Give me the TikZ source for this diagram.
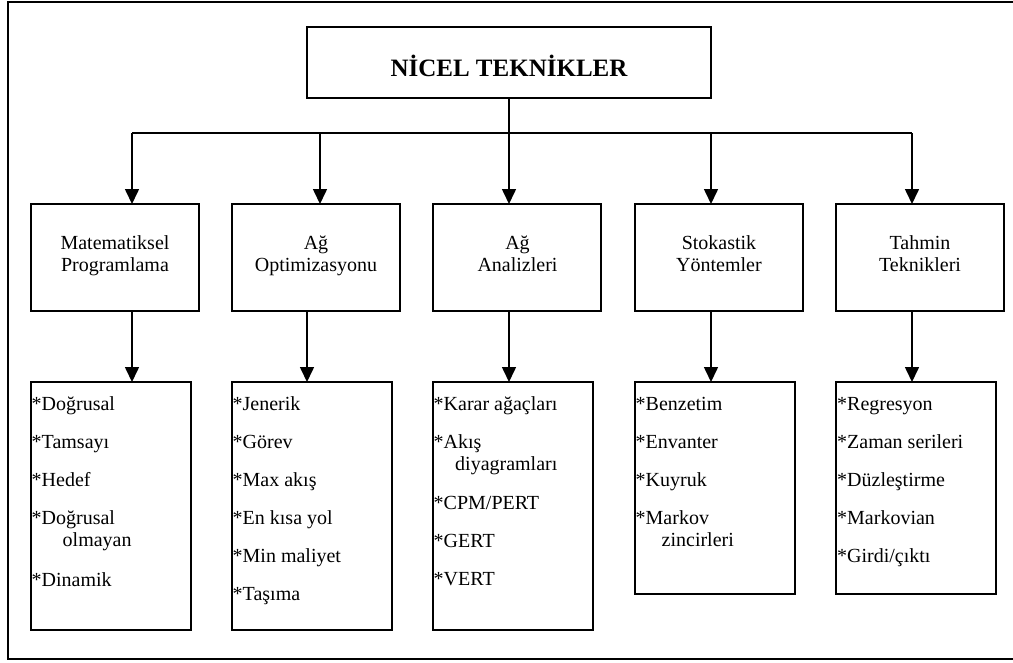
\documentclass[tikz,border=0pt]{standalone}
\usepackage{fontspec}
\setmainfont{Liberation Serif}
\usetikzlibrary{arrows.meta}
\begin{document}
\begin{tikzpicture}[x=1pt,y=-1pt,
  box/.style={draw, line width=1.6pt, rectangle, inner sep=0pt, outer sep=0pt, anchor=north west},
  wire/.style={line width=1.6pt},
  arr/.style={line width=1.6pt, -{Triangle[width=14pt,length=15pt]}},
  head/.style={font=\fontsize{20}{22}\selectfont, anchor=base, inner sep=0pt},
  item/.style={font=\fontsize{20}{22}\selectfont, anchor=base west, inner sep=0pt},
  title/.style={font=\bfseries\fontsize{25}{28}\selectfont, anchor=base, inner sep=0pt}]
\useasboundingbox (0,0) rectangle (1013,662);

% outer frame (runs past the right edge of the page)
\draw[wire] (1030,2) -- (8,2) -- (8,659) -- (1030,659);

% title box
\node[box, minimum width=404pt, minimum height=71pt] (top) at (307,27) {};
\node[title] (ttl) at (509,76.7) {NİCEL TEKNİKLER};

% second level boxes
\node[box, minimum width=168pt, minimum height=107pt] (m1) at (31,204) {};
\node[box, minimum width=168pt, minimum height=107pt] (m2) at (232,204) {};
\node[box, minimum width=168pt, minimum height=107pt] (m3) at (433,204) {};
\node[box, minimum width=168pt, minimum height=107pt] (m4) at (635,204) {};
\node[box, minimum width=168pt, minimum height=107pt] (m5) at (836,204) {};

\node[head] (h1a) at (115,249) {Matematiksel};
\node[head] (h1b) at (115,271) {Programlama};
\node[head] (h2a) at (316,249) {Ağ};
\node[head] (h2b) at (316,271) {Optimizasyonu};
\node[head] (h3a) at (517.5,249) {Ağ};
\node[head] (h3b) at (517.5,271) {Analizleri};
\node[head] (h4a) at (719,249) {Stokastik};
\node[head] (h4b) at (719,271) {Yöntemler};
\node[head] (h5a) at (920,249) {Tahmin};
\node[head] (h5b) at (920,271) {Teknikleri};

% third level boxes
\node[box, minimum width=160pt, minimum height=248pt] (l1) at (31,382) {};
\node[box, minimum width=160pt, minimum height=248pt] (l2) at (232,382) {};
\node[box, minimum width=160pt, minimum height=248pt] (l3) at (433,382) {};
\node[box, minimum width=160pt, minimum height=212pt] (l4) at (635,382) {};
\node[box, minimum width=160pt, minimum height=212pt] (l5) at (836,382) {};

% items
\node[item] (a1) at (31.5,410.7) {*Doğrusal};
\node[item] (a2) at (31.5,448.7) {*Tamsayı};
\node[item] (a3) at (31.5,486.7) {*Hedef};
\node[item] (a4) at (31.5,524.3) {*Doğrusal};
\node[item] (a5) at (62.5,546.7) {olmayan};
\node[item] (a6) at (31.5,586.7) {*Dinamik};

\node[item] (b1) at (232.5,410.7) {*Jenerik};
\node[item] (b2) at (232.5,448.7) {*Görev};
\node[item] (b3) at (232.5,486.7) {*Max akış};
\node[item] (b4) at (232.5,524.3) {*En kısa yol};
\node[item] (b5) at (232.5,562.3) {*Min maliyet};
\node[item] (b6) at (232.5,600.7) {*Taşıma};

\node[item] (c1) at (433.5,410.7) {*Karar ağaçları};
\node[item] (c2) at (433.5,448.7) {*Akış};
\node[item] (c3) at (455,470.7) {diyagramları};
\node[item] (c4) at (433.5,509.3) {*CPM/PERT};
\node[item] (c5) at (433.5,547.3) {*GERT};
\node[item] (c6) at (433.5,585.3) {*VERT};

\node[item] (d1) at (635.5,410.7) {*Benzetim};
\node[item] (d2) at (635.5,448.7) {*Envanter};
\node[item] (d3) at (635.5,486.7) {*Kuyruk};
\node[item] (d4) at (635.5,524.3) {*Markov};
\node[item] (d5) at (661.5,546.7) {zincirleri};

\node[item] (e1) at (837,410.7) {*Regresyon};
\node[item] (e2) at (837,448.7) {*Zaman serileri};
\node[item] (e3) at (837,486.7) {*Düzleştirme};
\node[item] (e4) at (837,524.3) {*Markovian};
\node[item] (e5) at (837,562.3) {*Girdi/çıktı};

% distribution bus from the title box
\coordinate (x1) at (132,133);
\coordinate (x2) at (320,133);
\coordinate (x2b) at (307,133);
\coordinate (x4) at (711,133);
\coordinate (x5) at (912,133);
\draw[wire] (x1) -- (x5);
\draw[arr] (x1) -- (x1 |- m1.north);
\draw[arr] (x2) -- (x2 |- m2.north);
\draw[arr] (top.south) -- (top.south |- m3.north);
\draw[arr] (x4) -- (x4 |- m4.north);
\draw[arr] (x5) -- (x5 |- m5.north);

% second to third level
\draw[arr] (x1 |- m1.south) -- (x1 |- l1.north);
\draw[arr] (x2b |- m2.south) -- (x2b |- l2.north);
\draw[arr] (top.south |- m3.south) -- (top.south |- l3.north);
\draw[arr] (x4 |- m4.south) -- (x4 |- l4.north);
\draw[arr] (x5 |- m5.south) -- (x5 |- l5.north);
\end{tikzpicture}
\end{document}
